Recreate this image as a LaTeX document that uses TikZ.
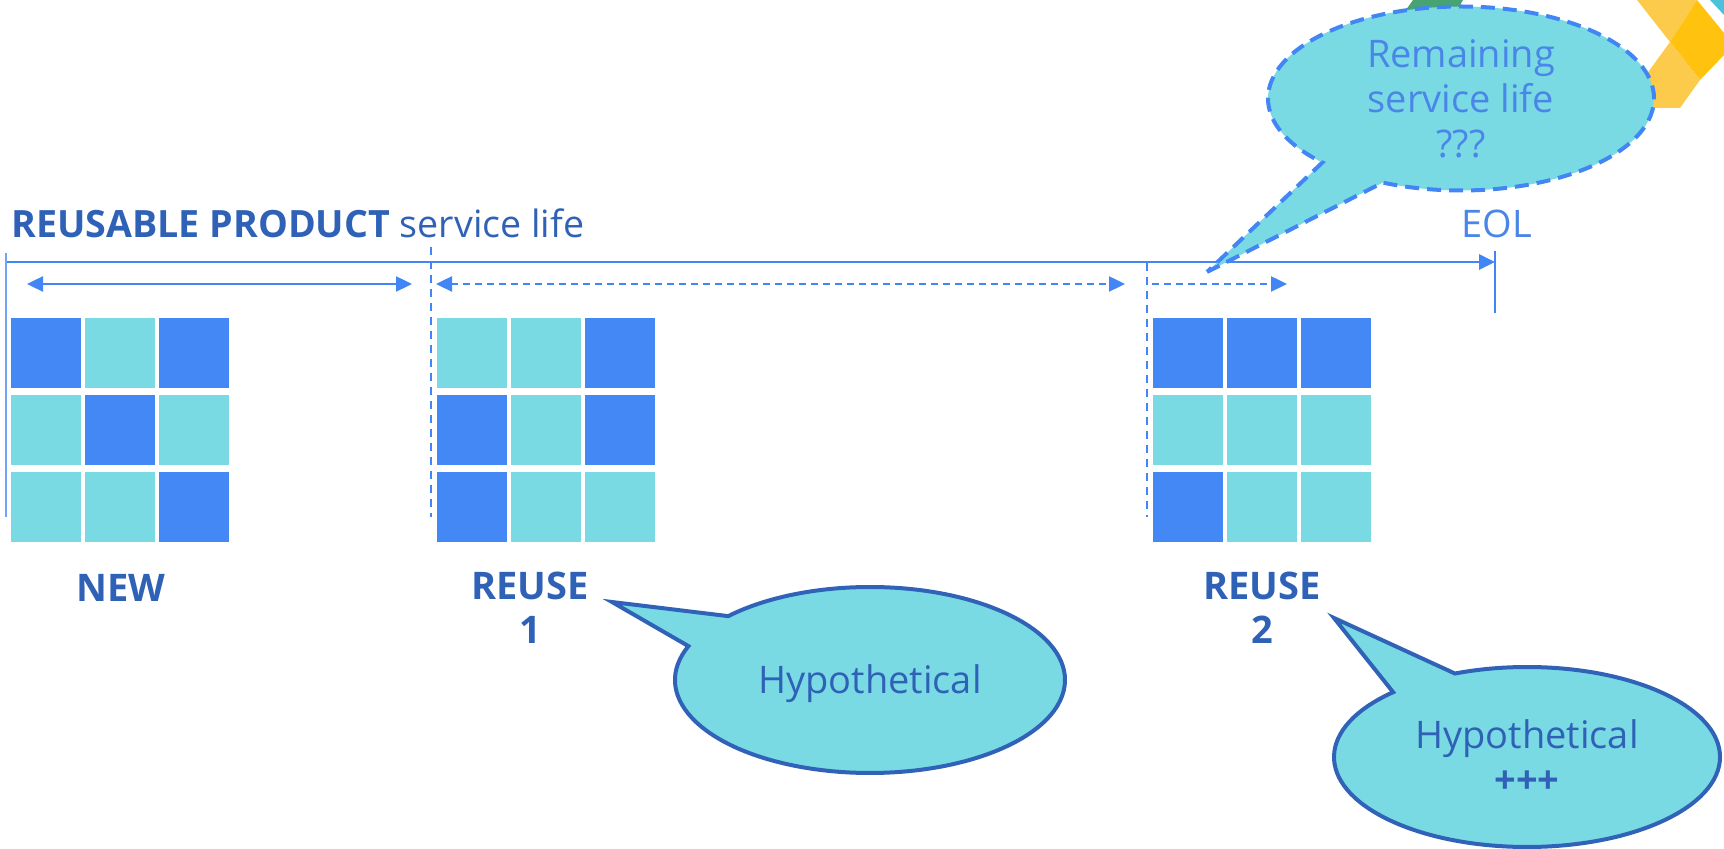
\documentclass[tikz,border=0pt]{standalone}
\usepackage{fontspec}
\setmainfont{Open Sans}
\usetikzlibrary{arrows.meta, shapes.callouts}

\definecolor{tiledark}{HTML}{4488F5}
\definecolor{tilelight}{HTML}{79DAE4}
\definecolor{linebl}{HTML}{4285F4}
\definecolor{textbl}{HTML}{2F62B6}
\definecolor{softbl}{HTML}{4A86E8}
\definecolor{edgebl}{HTML}{3063B8}
\definecolor{yellowdk}{HTML}{FFC20E}
\definecolor{yellowlt}{HTML}{FDCB4B}
\definecolor{leafgreen}{HTML}{48A372}
\definecolor{tealpiece}{HTML}{4EC1DA}

\tikzset{
  tiledk/.style={fill=tiledark},
  tilelt/.style={fill=tilelight},
  axis/.style={draw=linebl, line width=1.4pt},
  span/.style={draw=linebl, line width=1.2pt},
  spandash/.style={span, dash pattern=on 3.5pt off 2.5pt},
  guide/.style={draw=linebl, line width=0.75pt, dash pattern=on 4pt off 3pt},
  lbl/.style={text=textbl, font=\fontsize{19}{22}\selectfont\bfseries, align=center, inner sep=0pt},
  bubble/.style={ellipse callout, fill=tilelight, draw=edgebl, line width=2pt,
    callout pointer arc=22, inner sep=0pt, align=center,
    font=\fontsize{19}{22.5}\selectfont},
}

\begin{document}
\begin{tikzpicture}[x=0.5pt, y=-0.5pt, >={Triangle[length=8pt,width=7.5pt]}]
\useasboundingbox (0,0) rectangle (1724,849);

% logo corner, partly under the top bubble
\fill[leafgreen] (1403,14) -- (1413,0) -- (1463,0) -- (1450,22) -- (1396,26) -- cycle;
\fill[yellowlt] (1637,0) -- (1697,0) -- (1670,42) -- cycle;
\fill[yellowdk] (1697,0) -- (1724,33) -- (1724,55) -- (1700,80) -- (1670,42) -- cycle;
\fill[yellowlt] (1670,42) -- (1700,80) -- (1680,108) -- (1622,108) -- cycle;
\fill[tealpiece] (1710,0) -- (1724,0) -- (1724,15) -- cycle;

% service life axis
\coordinate (start) at (6,262);
\coordinate (eol) at (1495,262);
\draw[axis, ->] (start) -- (eol);
\draw[linebl!75, line width=0.8pt] (6,253) -- (6,517);
\draw[axis] (1495,251) -- (1495,313);
\node[anchor=base, inner sep=0pt, text=softbl, font=\fontsize{19}{22}\selectfont] (eoltext) at (1497,238) {EOL};
\node[anchor=base west, inner sep=0pt, text=textbl, font=\fontsize{18.8}{22}\selectfont] (title) at (11,238) {\textbf{REUSABLE PRODUCT} service life};

% phases
\draw[span, <->] (27,284) -- (412,284);
\draw[guide] (431,247) -- (431,517);
\draw[spandash, <->] (436,284) -- (1125,284);
\draw[guide] (1147,263) -- (1147,517);
\draw[spandash, ->] (1152,284) -- (1287,284);

% new
\begin{scope}[shift={(11,318)}]
\foreach \i/\j/\t in {0/0/tiledk, 1/0/tilelt, 2/0/tiledk,
                      0/1/tilelt, 1/1/tiledk, 2/1/tilelt,
                      0/2/tilelt, 1/2/tilelt, 2/2/tiledk}
  \fill[\t] (74*\i,77*\j) rectangle ++(70,70);
\end{scope}
\node[lbl, anchor=base] (new) at (121,602) {NEW};

% reuse 1
\begin{scope}[shift={(436.5,318)}]
\foreach \i/\j/\t in {0/0/tilelt, 1/0/tilelt, 2/0/tiledk,
                      0/1/tiledk, 1/1/tilelt, 2/1/tiledk,
                      0/2/tiledk, 1/2/tilelt, 2/2/tilelt}
  \fill[\t] (74*\i,77*\j) rectangle ++(70,70);
\end{scope}
\node[lbl, anchor=base] (reuse1) at (530,644) {REUSE\\1};

% reuse 2
\begin{scope}[shift={(1153,318)}]
\foreach \i/\j/\t in {0/0/tiledk, 1/0/tiledk, 2/0/tiledk,
                      0/1/tilelt, 1/1/tilelt, 2/1/tilelt,
                      0/2/tiledk, 1/2/tilelt, 2/2/tilelt}
  \fill[\t] (74*\i,77*\j) rectangle ++(70,70);
\end{scope}
\node[lbl, anchor=base] (reuse2) at (1262,644) {REUSE\\2};

% callouts
\coordinate (remaintip) at (1207,272);
\node[bubble, draw=linebl, line width=2pt, dash pattern=on 7pt off 4pt, text=softbl,
  minimum width=193pt, minimum height=92pt, callout absolute pointer={(remaintip)}]
  (remain) at (1461,98.5) {Remaining\\service life\\???};

\coordinate (hyp1tip) at (612,602);
\node[bubble, text=textbl, minimum width=195pt, minimum height=93pt,
  text height=14pt, text depth=1pt, callout absolute pointer={(hyp1tip)}]
  (hyp1) at (870,680) {Hypothetical};

\coordinate (hyp2tip) at (1334,618);
\node[bubble, text=textbl, minimum width=193pt, minimum height=90pt,
  callout absolute pointer={(hyp2tip)}]
  (hyp2) at (1527,757) {Hypothetical\\\textbf{+++}};

\end{tikzpicture}
\end{document}
